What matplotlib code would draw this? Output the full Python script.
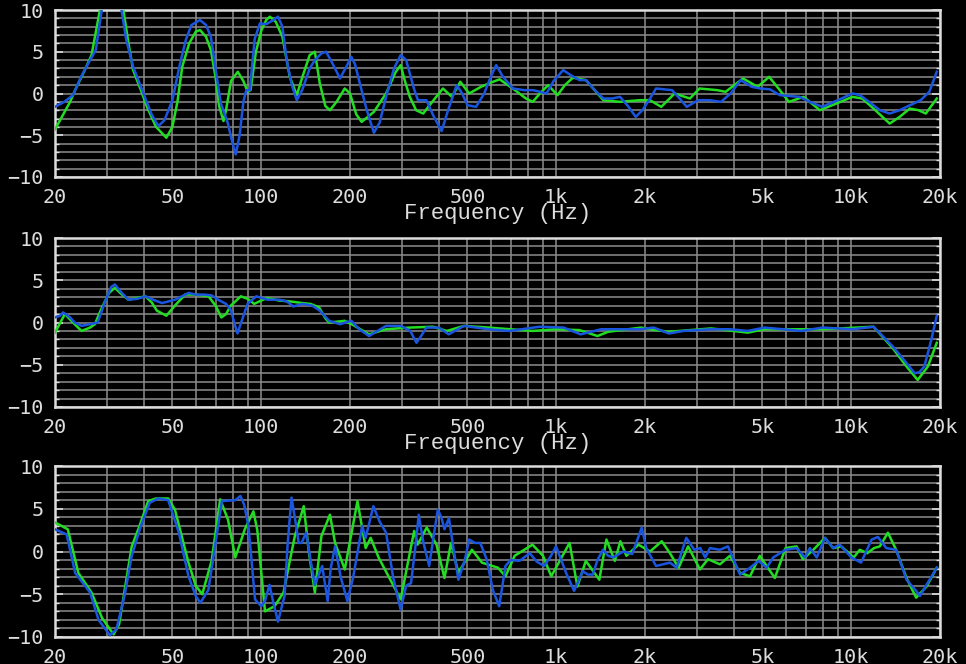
import numpy as np
import matplotlib.pyplot as plt
from matplotlib.ticker import FixedLocator, MultipleLocator, NullFormatter

# x axis
freq_ticks = [20, 50, 100, 200, 500, 1000, 2000, 5000, 10000, 20000]
freq_labels = ['20', '50', '100', '200', '500', '1k', '2k', '5k', '10k', '20k']
freq_grid = [30, 40, 60, 70, 80, 90, 300, 400, 600, 700, 800, 900,
             3000, 4000, 6000, 7000, 8000, 9000]
db_ticks = [-10, -5, 0, 5, 10]

# panel 1  (frequency Hz, level dB)
p1_green = [(20, -4.3), (22.5, -1.0), (23.4, 0.4), (25, 2.5), (26.6, 4.6), (28.4, 10),
            (31, 17), (34.1, 10), (35.5, 6.0), (36.8, 2.8), (39, 0.5), (41, -1.6),
            (44, -4.0), (47.7, -5.3), (50, -4.0), (52, -1.0), (54, 3.2), (57, 6.0),
            (60, 7.4), (62, 7.6), (65, 6.8), (67.5, 5.2), (70, 2.0), (72, -1.5),
            (74.5, -3.3), (76, -2.0), (79, 1.5), (83.3, 2.6), (87, 1.5), (90, 0.2),
            (92, 0.4), (96, 5.0), (100, 7.5), (104, 8.8), (107, 9.2), (112, 8.6),
            (118, 6.8), (125, 2.0), (132, -0.2), (138, 2.0), (146, 4.6), (152, 5.0),
            (158, 1.2), (165, -1.5), (171, -2.0), (180, -1.0), (192, 0.6), (200, 0.0),
            (210, -2.5), (219, -3.4), (241, -2.2), (265, 0.0), (285, 2.5), (297, 3.4),
            (307, 1.5), (319, -0.4), (335, -2.0), (354, -2.4), (380, -1.0), (413, 0.6),
            (443, -0.4), (473, 1.4), (507, 0.0), (556, 0.8), (600, 1.3), (643, 1.7),
            (725, 0.4), (790, -0.6), (833, -1.0), (880, 0.0), (939, 1.0), (1010, -0.2),
            (1070, 1.0), (1140, 1.9), (1263, 1.6), (1350, 0.4), (1445, -0.8), (1645, -1.0),
            (1924, -0.8), (2080, -0.8), (2270, -1.6), (2520, 0.0), (2840, -0.6), (3060, 0.6),
            (3520, 0.4), (3750, 0.2), (4300, 1.8), (4820, 0.8), (5270, 2.0), (5700, 0.5),
            (6150, -1.0), (6900, -0.4), (7830, -2.0), (8910, -1.2), (10100, -0.4),
            (10900, -0.6), (11900, -1.8), (13500, -3.6), (14600, -2.8), (15800, -1.8),
            (16900, -2.0), (17900, -2.4), (19500, -0.6)]
p1_blue = [(20, -1.6), (21.5, -1.0), (23, -0.2), (24.5, 2.0), (26.3, 4.0), (27.5, 5.2),
           (28.8, 10), (31, 16), (33.6, 10), (34.9, 6.4), (36.8, 3.2), (40.3, -0.4),
           (42.5, -2.5), (44.8, -3.9), (47, -3.2), (50, -0.8), (53, 3.5), (55.5, 6.4),
           (58, 8.2), (62, 8.8), (65, 8.2), (67.5, 6.8), (70, 3.0), (73, -1.2), (77, -3.5),
           (80, -6.0), (82, -7.3), (84.5, -5.0), (87, -1.0), (89, 0.4), (91.5, 0.4),
           (95, 6.5), (99, 8.4), (104, 8.3), (110, 8.8), (114, 9.2), (118, 8.0), (122, 4.0),
           (127, 1.0), (132, -0.8), (138, 0.5), (146, 3.0), (152, 4.0), (160, 4.8),
           (166, 5.0), (175, 3.5), (185, 1.8), (193, 3.0), (202, 4.4), (208, 3.5),
           (216, 1.2), (228, -2.0), (241, -4.7), (252, -3.5), (265, -0.4), (282, 3.0),
           (297, 4.6), (310, 4.0), (319, 2.4), (330, 0.5), (340, -0.8), (363, -0.8),
           (385, -2.8), (409, -4.5), (430, -2.0), (460, 1.0), (480, 0.0), (500, -1.4),
           (535, -1.6), (570, 0.0), (600, 2.0), (626, 3.4), (660, 2.0), (713, 0.6),
           (780, 0.4), (836, 0.4), (927, 0.0), (980, 1.5), (1056, 2.8), (1120, 2.2),
           (1200, 1.6), (1263, 1.6), (1350, 0.4), (1445, -0.6), (1550, -0.6), (1645, -0.4),
           (1760, -1.6), (1860, -2.8), (1960, -2.0), (2080, -0.6), (2180, 0.6), (2470, 0.4),
           (2620, -0.6), (2770, -1.6), (3030, -0.8), (3300, -0.8), (3620, -1.0), (3900, 0.0),
           (4220, 1.6), (4600, 0.8), (4920, 0.6), (5300, 0.5), (5730, -0.2), (6670, -0.4),
           (7241, -1.0), (7970, -1.6), (9000, -0.8), (10100, 0.0), (10700, -0.2),
           (11500, -1.0), (12500, -2.0), (13500, -2.4), (14600, -2.0), (15400, -1.6),
           (17200, -0.8), (18400, 0.2), (19500, 2.6)]

# panel 2
p2_green = [(20, -1.2), (21.6, 1.0), (23, 0.0), (24.6, -1.0), (26.3, -0.6), (27.3, -0.2),
            (28.7, 1.6), (30.5, 3.5), (31.9, 4.1), (33.5, 3.4), (35.5, 2.7), (40.5, 3.1),
            (42.5, 2.4), (44.3, 1.4), (47.7, 0.8), (51, 2.0), (55.2, 3.3), (60, 3.3),
            (66.3, 3.1), (70, 2.0), (73.3, 0.6), (76, 1.0), (78.9, 2.0), (85.3, 3.1),
            (90, 2.8), (94.7, 2.2), (100, 2.6), (105, 2.9), (115, 2.6), (125, 2.5),
            (138, 2.3), (147, 2.2), (157, 1.8), (165, 0.5), (170, 0.0), (192, 0.2),
            (205, -0.3), (232, -1.4), (265, -0.8), (319, -0.6), (382, -0.5), (426, -1.0),
            (487, -0.4), (590, -0.6), (832, -1.0), (1000, -0.8), (1200, -0.9), (1380, -1.6),
            (1500, -1.1), (1940, -0.6), (2080, -0.8), (2410, -1.1), (3350, -0.7),
            (4460, -1.2), (5080, -0.8), (8000, -0.8), (11900, -0.5), (13800, -3.0),
            (15400, -5.2), (16800, -6.8), (18200, -5.2), (19500, -2.4)]
p2_blue = [(20, 0.6), (20.8, 0.8), (21.3, 1.2), (22.5, 0.6), (23.3, 0.0), (24.6, -0.4),
           (26.3, -0.2), (27.9, 0.0), (29.5, 2.4), (31, 4.2), (31.9, 4.5), (33.5, 3.6),
           (35.5, 2.7), (38, 2.8), (40.5, 3.1), (43, 2.7), (46.1, 2.3), (51.1, 2.7),
           (56.7, 3.5), (60, 3.3), (64.5, 3.3), (68, 3.2), (71.4, 2.7), (76, 2.2),
           (78.9, 1.5), (81, 0.0), (83.1, -1.3), (85.5, 0.0), (89.9, 2.2), (96.2, 3.1),
           (105, 2.7), (115, 2.7), (122, 2.5), (128.5, 1.9), (138, 2.2), (149, 2.0),
           (158, 1.4), (170, 0.2), (185, -0.2), (202, 0.2), (215, -0.8), (232, -1.6),
           (265, -0.4), (297, -0.4), (320, -1.0), (336, -2.4), (350, -1.5), (363, -0.6),
           (400, -0.6), (432, -1.4), (487, -0.4), (590, -0.8), (693, -1.0), (880, -0.5),
           (1060, -0.6), (1210, -1.4), (1420, -0.8), (1924, -0.8), (2140, -0.6),
           (2410, -1.3), (2700, -1.0), (3350, -0.8), (3880, -0.8), (4460, -1.0),
           (5080, -0.6), (6770, -1.0), (8000, -0.6), (10100, -0.8), (11900, -0.5),
           (13800, -2.8), (15400, -4.8), (16400, -6.0), (17000, -5.9), (17700, -5.2),
           (18700, -2.0), (19500, 0.8)]

# panel 3
p3_green = [(20, 3.4), (22.1, 2.6), (24, -2.5), (26.6, -4.8), (28.9, -7.8), (31.6, -9.7),
            (33, -8.5), (36.4, 0.6), (38.5, 2.8), (41.4, 5.9), (44, 6.2), (48.4, 6.2),
            (51, 4.9), (56.7, -1.3), (60, -4.0), (63.1, -5.0), (67.9, -1.1), (72.6, 6.1),
            (77.2, 3.7), (81.7, -0.7), (88, 2.6), (94.1, 4.7), (97, 2.5), (103, -7.0),
            (111, -6.4), (119, -4.8), (130, 1.8), (139.4, 5.3), (145, 0.0), (152, -4.8),
            (160, 1.8), (171, 4.3), (178, 1.0), (192, -2.1), (212, 5.9), (226, 0.4),
            (235, 1.6), (250, -0.7), (297, -5.6), (330, 2.4), (339, 0.8), (364, 2.8),
            (393, 0.8), (418, -3.1), (440, 1.0), (466, -2.5), (518, 0.2), (560, -1.3),
            (635, -1.9), (673, -2.9), (723, -0.5), (831, 0.8), (902, -0.5), (962, -2.9),
            (1110, 1.0), (1180, -4.1), (1260, -1.1), (1400, -3.3), (1480, 1.4), (1580, -1.1),
            (1650, 1.2), (1730, -0.5), (1900, 0.8), (2080, 0.0), (2280, 1.2), (2430, -0.2),
            (2600, -1.9), (2800, 0.6), (3070, -2.1), (3270, -0.9), (3590, -1.5),
            (3880, -0.5), (4200, -2.5), (4540, -2.9), (4900, -0.5), (5510, -3.1),
            (5990, 0.4), (6530, 0.6), (6860, -0.9), (7440, 0.2), (8150, 1.6), (8680, 0.4),
            (9250, 0.6), (10200, -0.7), (10690, 0.2), (11340, -0.2), (11950, 0.4),
            (12500, 0.6), (13320, 2.2), (14200, 0.2), (15400, -3.1), (16600, -5.4),
            (18000, -4.1), (19500, -1.9)]
p3_blue = [(20, 2.6), (21.9, 2.0), (23.4, -2.5), (26.3, -4.8), (28.1, -8.0), (30.7, -9.8),
           (32.3, -9.1), (34.5, -5.0), (36.4, -0.5), (39.1, 3.0), (41.9, 5.7), (44.8, 6.2),
           (48.4, 6.0), (52.6, 2.2), (56.7, -2.9), (60, -5.2), (62.2, -6.0), (66.2, -4.5),
           (70, 1.0), (73.6, 5.9), (81.7, 6.0), (85, 6.5), (87.5, 5.5), (90.5, 3.0),
           (95.3, -5.6), (100, -6.4), (103, -5.8), (106.7, -3.9), (110, -6.0), (114, -8.2),
           (120, -5.2), (123, 1.0), (126.7, 6.3), (130, 4.0), (134, 1.0), (137, 1.0),
           (142, 2.2), (147, -1.0), (152, -3.9), (161, -1.7), (168, -5.8), (172, -2.0),
           (178, 0.6), (186, -3.0), (196, -5.8), (205, -3.0), (220, 3.0), (226, 1.6),
           (240, 5.3), (252, 3.5), (265, 2.2), (280, -3.0), (297, -6.8), (310, -4.0),
           (322, -3.7), (333, 0.5), (342, 4.3), (355, 1.0), (371, -1.7), (385, 2.0),
           (397, 4.9), (408, 4.0), (418, 2.6), (433, 3.9), (450, 0.0), (466, -3.3),
           (490, -1.0), (507, 1.4), (530, 1.0), (553, 1.0), (581, -0.9), (610, -4.5),
           (641, -6.4), (673, -1.7), (700, -1.0), (751, -1.1), (813, -0.2), (860, -1.2),
           (910, -1.7), (960, -0.5), (999, 0.6), (1040, -1.0), (1080, -2.5), (1150, -4.6),
           (1230, -2.3), (1280, -2.7), (1330, -2.7), (1380, -1.0), (1440, 0.2),
           (1500, -0.5), (1560, -0.7), (1690, 0.0), (1810, -0.3), (1950, 2.8), (2020, 0.4),
           (2180, -1.7), (2300, -1.5), (2430, -1.3), (2560, -1.9), (2760, 1.6), (2940, 0.2),
           (3080, 0.4), (3200, -0.7), (3320, 0.4), (3590, 0.2), (3820, 0.6), (4200, -2.7),
           (4540, -1.9), (4850, -1.1), (5170, -1.9), (5440, -0.7), (5990, 0.2), (6530, 0.4),
           (6970, -0.7), (7240, 0.4), (7640, -0.7), (8150, 1.6), (8680, 0.4), (9150, 0.8),
           (10010, -0.7), (10800, -1.3), (11730, 1.4), (12320, 1.7), (13150, 0.4),
           (14200, 0.2), (15400, -3.3), (16600, -4.6), (17100, -5.2), (18000, -3.9),
           (19500, -1.9)]

panels = [(p1_green, p1_blue), (p2_green, p2_blue), (p3_green, p3_blue)]

GREEN = '#22dd22'
BLUE = '#1a55e0'
FG = '#dddddd'
GRID = '#8c8c8c'

fig = plt.figure(figsize=(9.66, 6.64), dpi=100, facecolor='black')

# axes boxes in pixels: (top, bottom)
boxes = [(10, 177), (238, 407), (466, 637)]
W, H = 966, 664
left, right = 55, 940

for (green, blue), (top, bottom) in zip(panels, boxes):
    ax = fig.add_axes([left / W, 1 - bottom / H, (right - left) / W, (bottom - top) / H])
    ax.set_facecolor('black')
    ax.set_xscale('log')
    ax.set_xlim(20, 20000)
    ax.set_ylim(-10, 10)

    g = np.array(green)
    b = np.array(blue)
    ax.plot(g[:, 0], g[:, 1], color=GREEN, lw=1.8, zorder=3)
    ax.plot(b[:, 0], b[:, 1], color=BLUE, lw=1.8, zorder=4)

    ax.xaxis.set_major_locator(FixedLocator(freq_ticks))
    ax.set_xticklabels(freq_labels)
    ax.xaxis.set_minor_locator(FixedLocator(freq_grid))
    ax.xaxis.set_minor_formatter(NullFormatter())
    ax.yaxis.set_major_locator(FixedLocator(db_ticks))
    ax.yaxis.set_minor_locator(MultipleLocator(1))

    ax.grid(which='both', color=GRID, lw=1.1, zorder=1)
    ax.tick_params(axis='both', which='both', colors=FG, labelcolor=FG,
                   labelsize=14.5, direction='in')
    ax.tick_params(axis='x', which='both', length=0, pad=8)
    ax.tick_params(axis='y', which='major', length=6, width=1.2, pad=8, right=True)
    ax.tick_params(axis='y', which='minor', length=3, width=1.0, right=True)
    for lab in ax.get_xticklabels() + ax.get_yticklabels():
        lab.set_family('DejaVu Sans Mono')

    for s in ax.spines.values():
        s.set_color(FG)
        s.set_linewidth(1.8)

    ax.set_xlabel('Frequency (Hz)', color=FG, fontsize=16, family='Liberation Mono')
    ax.xaxis.set_label_coords(0.5, -0.155)

fig.savefig('out.png', dpi=100, facecolor='black')
